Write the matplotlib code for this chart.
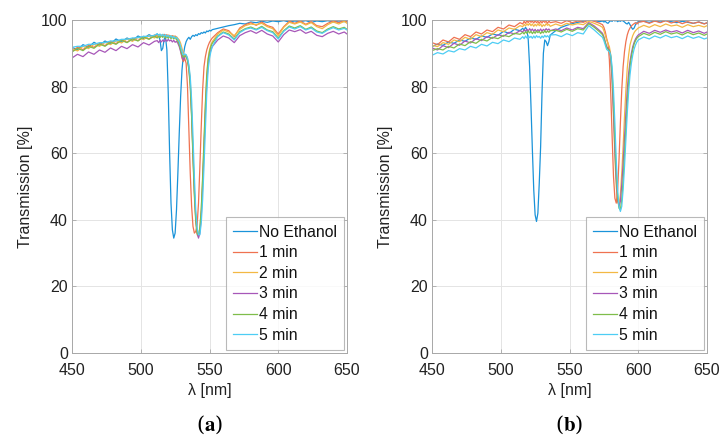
import numpy as np
import matplotlib
matplotlib.use("Agg")
import matplotlib.pyplot as plt

plt.rcParams["font.family"] = ["Liberation Sans", "DejaVu Sans"]
plt.rcParams["mathtext.fontset"] = "stix"

# ------------------------------------------------------------
# data
# ------------------------------------------------------------
LABELS = ["No Ethanol", "1 min", "2 min", "3 min", "4 min", "5 min"]
COLORS = ["#1a93d9", "#ef7250", "#f3b844", "#a757b8", "#7fbd4a", "#4dcdf4"]

# panel (a) wavelength samples
WL_A = np.concatenate([np.arange(450, 511, 4), np.arange(512, 553, 1),
                       np.arange(556, 649, 4), [650]])

NE_A = [91.8, 91.0, 92.6, 91.8, 93.3, 92.4, 93.7, 92.8, 94.3, 93.4, 94.6, 93.8, 95.2, 94.4, 95.6, 94.8,
        95.8, 95.2, 94.0, 90.8, 91.5, 94.2, 95.0, 91.0, 78.0, 60.0, 45.0, 37.0, 34.5, 36.0, 43.0, 54.0,
        66.0, 77.0, 85.0, 89.5, 92.0, 93.5, 94.3, 94.8, 94.2, 95.0, 95.4, 95.1, 95.6, 95.3, 95.9, 95.7,
        96.2, 96.0, 96.4, 96.1, 96.7, 96.5, 96.9, 96.7, 97.1,
        97.5, 97.9, 98.3, 98.6, 99.0, 98.8, 99.4, 99.2, 99.6, 99.3, 99.7, 99.5, 99.8, 99.4, 99.7, 99.5,
        99.8, 99.3, 99.7, 99.5, 99.8, 99.4, 99.7, 99.5, 99.6]
M1_A = [90.6, 91.8, 91.1, 92.4, 91.8, 93.0, 92.3, 93.6, 92.9, 94.1, 93.3, 94.5, 93.8, 95.1, 94.3, 95.5,
        95.0, 95.6, 95.1, 95.5, 95.0, 95.7, 95.2, 95.6, 95.0, 95.4, 94.8, 95.3, 94.9, 95.2, 94.6, 94.0,
        93.0, 91.0, 88.5, 87.5, 88.5, 87.0, 80.0, 67.0, 54.0, 44.0, 38.0, 36.0, 36.5, 38.5, 45.0, 56.0,
        68.0, 79.0, 86.0, 89.0, 91.0, 92.3, 93.3, 94.0, 94.6,
        96.2, 97.3, 96.8, 95.0, 97.6, 98.6, 99.2, 98.4, 99.4, 98.3, 97.8, 95.8, 98.0, 99.6, 99.0, 99.7,
        98.7, 99.5, 98.3, 98.0, 99.0, 99.7, 99.2, 99.8, 99.4]
M2_A = [91.4, 90.7, 92.1, 91.4, 92.7, 92.1, 93.3, 92.6, 93.8, 93.1, 94.3, 93.6, 94.8, 94.1, 95.3, 94.6,
        95.3, 94.9, 95.5, 95.0, 95.6, 95.1, 95.4, 94.9, 95.5, 95.0, 95.3, 94.8, 95.2, 94.7, 95.0, 94.5,
        94.0, 93.0, 91.5, 90.0, 89.0, 89.5, 88.5, 86.0, 82.0, 71.0, 58.0, 47.0, 39.5, 35.5, 35.0, 37.5,
        43.0, 53.0, 64.0, 75.0, 84.0, 88.5, 91.0, 92.5, 93.5,
        95.8, 97.0, 96.4, 95.3, 97.2, 98.3, 98.8, 98.6, 99.0, 98.0, 97.4, 95.3, 97.8, 99.3, 98.8, 99.4,
        98.5, 99.2, 98.0, 97.4, 98.6, 99.4, 98.8, 99.6, 99.0]
M3_A = [88.6, 89.7, 89.0, 90.4, 89.7, 91.0, 90.3, 91.6, 90.8, 92.1, 91.4, 92.6, 91.9, 93.2, 92.5, 93.6,
        93.8, 93.2, 93.9, 93.4, 94.0, 93.5, 94.1, 93.6, 94.2, 93.7, 94.0, 93.4, 93.9, 93.3, 93.6, 93.0,
        92.0, 90.5, 89.0, 88.0, 88.8, 89.3, 88.0, 85.5, 81.0, 72.0, 60.0, 49.0, 40.5, 36.0, 34.5, 36.0,
        41.0, 50.0, 61.0, 72.0, 81.0, 86.5, 89.5, 91.0, 92.0,
        94.0, 95.2, 94.6, 93.2, 95.3, 96.2, 96.8, 96.0, 96.9, 95.8, 95.2, 93.4, 95.6, 97.0, 96.5, 97.1,
        96.0, 96.6, 95.4, 95.0, 96.0, 96.6, 95.8, 96.4, 95.8]
M4_A = [90.4, 91.5, 90.8, 92.1, 91.5, 92.8, 92.1, 93.3, 92.7, 93.9, 93.2, 94.3, 93.7, 94.9, 94.2, 95.2,
        94.6, 95.2, 94.7, 95.3, 94.8, 95.2, 94.6, 95.1, 94.5, 95.0, 94.4, 94.9, 94.3, 94.7, 94.1, 93.6,
        92.6, 91.0, 89.6, 88.8, 89.2, 89.0, 87.8, 85.0, 80.0, 71.0, 59.0, 48.0, 40.0, 36.0, 35.5, 37.5,
        43.0, 52.0, 63.0, 74.0, 83.0, 88.0, 90.5, 92.0, 93.0,
        95.2, 96.4, 95.8, 94.3, 96.5, 97.4, 97.9, 97.2, 98.1, 97.0, 96.5, 94.6, 96.8, 98.2, 97.6, 98.3,
        97.2, 97.9, 96.7, 96.2, 97.3, 98.0, 97.3, 97.8, 97.2]
M5_A = [91.8, 92.1, 92.1, 92.7, 92.7, 93.2, 93.2, 93.7, 93.7, 94.2, 94.2, 94.6, 94.7, 95.1, 95.1, 95.4,
        95.9, 95.3, 95.8, 95.2, 95.7, 95.1, 95.6, 95.0, 95.4, 94.8, 95.3, 94.7, 95.1, 94.5, 94.8, 94.2,
        93.5, 92.0, 90.5, 89.5, 89.8, 89.6, 88.6, 86.5, 83.0, 76.0, 65.0, 53.0, 43.0, 37.5, 35.5, 35.5,
        39.0, 46.0, 56.0, 67.0, 78.0, 85.0, 88.5, 90.5, 92.0,
        95.0, 96.2, 95.5, 94.0, 96.2, 97.2, 97.6, 97.0, 97.8, 96.8, 96.2, 94.3, 96.6, 97.9, 97.3, 98.0,
        97.0, 97.6, 96.4, 96.0, 97.0, 97.7, 97.0, 97.5, 97.0]

# panel (b) wavelength samples
WL_B = np.concatenate([np.arange(450, 515, 4), np.arange(516, 537, 1), np.arange(540, 573, 4),
                       np.arange(574, 601, 1), np.arange(604, 649, 4), [650]])

NE_B = [92.0, 92.8, 92.4, 93.4, 93.0, 94.0, 93.6, 94.6, 94.2, 95.2, 94.8, 95.8, 95.4, 96.6, 96.0, 97.2, 96.8,
        97.5, 97.0, 97.8, 97.2, 94.0, 86.0, 74.0, 61.0, 49.0, 41.5, 39.5, 42.0, 51.0, 62.0, 78.0, 90.0,
        94.0, 93.5, 92.3, 93.5, 95.5,
        96.8, 97.8, 98.4, 98.9, 99.3, 99.6, 100.0, 99.8, 99.5,
        99.7, 99.4, 99.6, 99.2, 99.0, 99.5, 99.8, 99.6, 100.0, 99.7, 99.9, 99.5, 99.8, 99.6, 99.9, 99.7,
        99.4, 99.0, 98.8, 99.3, 98.6, 97.8, 97.2, 97.6, 98.6, 99.2, 99.5,
        99.6, 99.3, 99.7, 99.4, 99.8, 99.5, 99.2, 99.6, 99.3, 99.0, 99.4, 98.9, 99.1]
M1_B = [93.2, 92.6, 94.0, 93.4, 94.8, 94.2, 95.6, 95.0, 96.4, 95.8, 97.0, 96.5, 97.8, 97.3, 98.5, 98.0, 99.2,
        98.8, 99.6, 99.0, 99.8, 99.2, 99.9, 99.3, 99.7, 99.1, 99.8, 99.2, 99.6, 99.0, 99.7, 99.1, 99.8,
        99.3, 99.6, 99.0, 99.7, 99.2,
        99.5, 99.0, 99.8, 99.2, 99.7, 99.3, 100.0, 99.6, 99.0,
        98.6, 97.8, 96.5, 94.5, 93.0, 88.0, 78.0, 65.0, 53.0, 46.5, 45.0, 49.0, 58.0, 69.0, 79.0, 86.0,
        90.5, 93.5, 95.5, 96.8, 97.6, 98.2, 98.6, 98.9, 99.2, 98.8, 99.3,
        99.6, 99.0, 99.7, 99.2, 99.8, 99.1, 99.6, 98.9, 99.5, 99.0, 99.4, 98.8, 99.2]
M2_B = [92.4, 92.0, 93.2, 92.7, 94.0, 93.5, 94.8, 94.2, 95.6, 95.0, 96.2, 95.7, 97.0, 96.5, 97.6, 97.2, 98.3,
        98.0, 98.7, 98.2, 98.9, 98.4, 99.0, 98.3, 98.8, 98.1, 98.7, 98.2, 98.9, 98.3, 98.8, 98.0, 98.6,
        98.2, 98.9, 98.4, 98.7, 98.1,
        98.8, 98.2, 99.0, 98.5, 98.9, 98.6, 99.6, 99.0, 98.3,
        97.8, 96.8, 95.5, 94.0, 93.0, 92.0, 89.5, 82.0, 71.0, 59.0, 50.0, 45.5, 44.5, 47.5, 54.0, 62.0,
        71.0, 79.0, 85.5, 89.5, 92.5, 94.0, 95.3, 96.2, 96.8, 97.2, 97.6,
        98.4, 97.8, 98.6, 98.0, 98.8, 98.2, 98.5, 97.8, 98.6, 98.0, 98.4, 97.9, 98.3]
M3_B = [91.6, 91.0, 92.3, 91.7, 93.0, 92.4, 93.7, 93.1, 94.4, 93.8, 95.0, 94.5, 95.6, 95.1, 96.3, 95.8, 96.8,
        96.4, 97.1, 96.6, 97.2, 96.7, 97.4, 96.8, 97.3, 96.6, 97.2, 96.5, 97.1, 96.7, 97.3, 96.6, 97.2,
        96.8, 97.4, 96.9, 97.3, 96.8,
        97.3, 96.8, 97.6, 97.0, 97.8, 97.4, 99.2, 98.2, 96.8,
        96.0, 95.0, 93.5, 92.0, 91.5, 91.0, 88.5, 82.0, 72.0, 61.0, 52.0, 46.0, 44.0, 45.5, 50.5, 57.0,
        64.5, 72.0, 79.0, 84.0, 87.5, 90.0, 92.0, 93.3, 94.3, 95.0, 95.5,
        96.6, 96.0, 96.9, 96.3, 97.0, 96.4, 96.8, 96.1, 96.9, 96.2, 96.7, 96.0, 96.4]
M4_B = [90.8, 91.4, 91.0, 92.1, 91.6, 92.8, 92.3, 93.5, 93.0, 94.2, 93.7, 94.8, 94.4, 95.4, 95.0, 96.0, 95.7,
        96.3, 95.8, 96.5, 96.0, 96.7, 96.1, 96.6, 95.9, 96.5, 96.0, 96.7, 96.2, 96.6, 95.9, 96.5, 96.1,
        96.8, 96.2, 96.7, 96.3, 96.8,
        96.9, 96.4, 97.2, 96.6, 97.4, 97.0, 98.9, 97.8, 96.4,
        95.6, 94.6, 93.2, 91.8, 91.2, 90.8, 89.0, 84.0, 75.0, 64.0, 54.0, 47.0, 43.5, 43.0, 46.0, 52.0,
        60.0, 68.0, 75.5, 81.5, 86.0, 89.0, 91.2, 92.8, 93.8, 94.5, 95.0,
        96.0, 95.4, 96.3, 95.7, 96.5, 95.8, 96.2, 95.5, 96.3, 95.6, 96.1, 95.4, 95.8]
M5_B = [89.4, 90.2, 89.8, 90.8, 90.4, 91.4, 91.0, 92.1, 91.6, 92.7, 92.2, 93.3, 92.9, 94.0, 93.5, 94.6, 94.2,
        95.0, 94.4, 95.2, 94.6, 95.3, 94.7, 95.1, 94.5, 95.2, 94.6, 95.3, 94.8, 95.1, 94.5, 95.2, 94.7,
        95.4, 94.9, 95.3, 94.8, 95.5,
        95.6, 95.0, 95.9, 95.3, 96.2, 95.8, 98.3, 97.0, 95.5,
        94.8, 93.8, 92.5, 91.2, 90.8, 90.5, 89.5, 86.0, 79.0, 69.0, 58.0, 49.0, 44.0, 42.5, 44.0, 49.0,
        56.0, 64.0, 72.0, 78.5, 83.5, 87.0, 89.5, 91.3, 92.5, 93.4, 94.0,
        94.9, 94.3, 95.2, 94.6, 95.4, 94.7, 95.1, 94.4, 95.2, 94.5, 95.0, 94.3, 94.6]

SERIES_A = [NE_A, M1_A, M2_A, M3_A, M4_A, M5_A]
SERIES_B = [NE_B, M1_B, M2_B, M3_B, M4_B, M5_B]

X_TICKS = [450, 500, 550, 600, 650]
Y_TICKS = [0, 20, 40, 60, 80, 100]

# ------------------------------------------------------------
# figure
# ------------------------------------------------------------
fig = plt.figure(figsize=(7.21, 4.41), dpi=100)
ax_a = fig.add_axes([72 / 721, 1 - 353 / 441, 275 / 721, 333 / 441])
ax_b = fig.add_axes([432 / 721, 1 - 353 / 441, 275 / 721, 333 / 441])

for ax, wl, series, tag in [(ax_a, WL_A, SERIES_A, "a"), (ax_b, WL_B, SERIES_B, "b")]:
    for vals, lab, col in zip(series, LABELS, COLORS):
        ax.plot(wl, vals, color=col, lw=0.9, label=lab)

    ax.set_xlim(450, 650)
    ax.set_ylim(0, 100)
    ax.set_xticks(X_TICKS)
    ax.set_yticks(Y_TICKS)
    ax.grid(True, color="#e4e4e4", lw=0.7)
    ax.set_axisbelow(True)
    for sp in ax.spines.values():
        sp.set_color("#a8a8a8")
        sp.set_linewidth(0.7)
    ax.tick_params(direction="in", length=3, width=0.6, color="#a8a8a8",
                   labelsize=11.5, labelcolor="#222222", top=True, right=True, pad=3)
    ax.tick_params(axis="x", pad=7)
    ax.set_xlabel("λ [nm]", fontsize=11.5, color="#222222", labelpad=4)
    ax.set_ylabel("Transmission [%]", fontsize=11.5, color="#222222", labelpad=6)

    leg = ax.legend(loc="lower right", fontsize=11.3, frameon=True, fancybox=False,
                    borderaxespad=0.2, handlelength=1.55, handletextpad=0.1,
                    labelspacing=0.36, borderpad=0.45)
    leg.get_frame().set_edgecolor("#a8a8a8")
    leg.get_frame().set_linewidth(0.8)
    for t in leg.get_texts():
        t.set_color("#111111")

    ax.text(0.5, -0.216, "(" + r"$\mathbf{" + tag + "}$" + ")", transform=ax.transAxes,
            ha="center", va="center", fontsize=15, family="DejaVu Serif",
            math_fontfamily="stix")

fig.savefig("out.png", dpi=100)
